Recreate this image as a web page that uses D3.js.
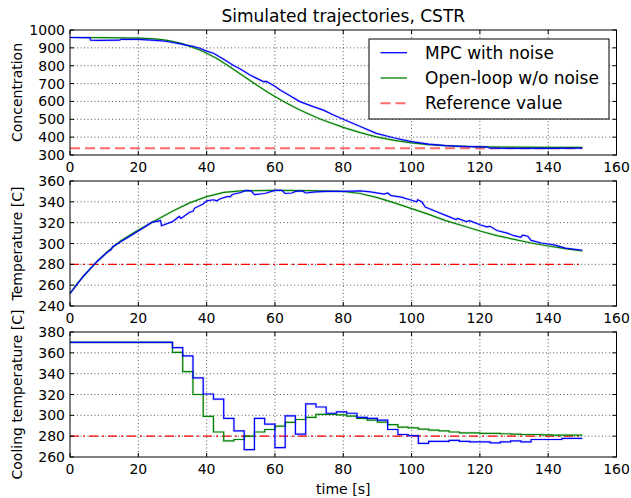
<!DOCTYPE html>
<html>
<head>
<meta charset="utf-8">
<script src="https://cdn.jsdelivr.net/npm/d3@7"></script>
<style>
  body { margin: 0; background: #fff; }
  svg { display: block; font-family: "DejaVu Sans", sans-serif; }
</style>
</head>
<body>
<div id="grafico"></div>
<script>
// datos
const ticksX = [0, 20, 40, 60, 80, 100, 120, 140, 160];

const tConcMpc = [0, 5.8, 6, 8, 14.5, 15, 20, 25, 28, 30, 32, 34, 36, 38, 40, 42, 45, 48, 50, 52.7, 56.6, 57.5, 60, 61.5, 64.4, 67.3, 71.2, 74.2, 77, 80, 85, 89.7, 95, 100, 105, 110, 115, 120, 122, 123, 130, 140, 150];
const concMpc = [958, 957, 943, 942, 943, 948, 947, 942, 937, 930, 924, 915, 909, 898, 882, 870, 836, 800, 780, 748, 711, 712, 685, 664, 632, 599, 571, 551, 525, 500, 460, 421, 395, 375, 361, 352, 348, 346, 345, 338, 337, 337, 338];
const tConcLazo = [0, 10, 20, 25, 28, 30, 33, 36, 38, 40, 43, 46.3, 50, 54, 58, 62.5, 67, 73, 80, 85, 90, 95, 100, 105, 110, 115, 120, 130, 140, 150];
const concLazo = [958, 957, 955, 950, 943, 936, 922, 903, 888, 870, 840, 800, 752, 700, 650, 600, 555, 503, 455, 425, 400, 382, 368, 358, 352, 348, 346, 344, 343, 343];
const concRef = 338;

const tTempMpc = [0, 4, 8, 11, 12, 12.5, 15, 18, 20, 22, 24, 25, 26.5, 26.8, 30, 32, 32.5, 35, 36, 36.5, 39, 40, 42, 43, 44, 46, 47, 47.5, 50, 51.5, 53, 54, 57, 58, 60, 62, 63, 65, 66, 68, 69, 72, 75, 80, 85, 88, 92, 93, 94, 97, 100, 101.5, 101.8, 103, 104, 107, 110, 113, 113.5, 116, 117, 120, 122, 123, 125, 128, 130, 132, 132.5, 134, 135, 138, 140, 142, 145, 150];
const tempMpc = [252, 269, 283, 292, 294, 297, 302, 308, 312, 316, 320.5, 321, 322, 317, 321, 326, 324, 330, 331, 334, 338, 341, 342, 341, 343, 345, 345, 347, 349, 351, 350.5, 347, 348, 349, 351, 351, 348, 348.5, 350, 350.5, 348.5, 349.5, 350, 350, 350.6, 349.5, 347.5, 348.5, 346, 344.5, 341.5, 340, 342, 340, 335, 331, 327, 323, 324, 321, 322, 318, 316, 316.5, 312.5, 310, 307.5, 306, 308, 307, 303, 300.5, 299.5, 298.5, 295.5, 293.5];
const tTempLazo = [0, 2, 4, 6, 8, 10, 12, 15, 20, 25, 30, 35, 40, 45, 50, 60, 70, 80, 85, 90, 95, 100, 105, 110, 115, 120, 125, 130, 135, 140, 145, 150];
const tempLazo = [252, 261, 269, 276, 283, 289, 295, 303, 313, 322, 331, 339, 345, 349, 350.5, 351, 350.8, 350, 348, 344, 339, 333.5, 328, 322, 317, 312, 307.5, 304, 300.5, 297.6, 295, 292.8];
const tempRef = 280;

// entrada de enfriamiento, escalones cada 3 s (el ultimo punto cierra en t=150)
const tEnfria = [0, 30, 33, 36, 39, 42, 45, 48, 51, 54, 57, 60, 63, 66, 69, 72, 75, 78, 81, 84, 87, 90, 93, 96, 99, 102, 105, 108, 111, 114, 117, 120, 123, 126, 129, 132, 135, 138, 141, 144, 147, 150];
const enfriaMpc = [370, 365, 357, 336, 320.5, 315.6, 297, 285, 267, 297, 291.5, 269, 299.5, 282, 311, 308, 302, 303.4, 302, 298, 297, 295.4, 286.4, 281.6, 280.5, 273, 275, 275, 276, 275, 274.5, 274.5, 273.5, 274.5, 275.4, 274.5, 276.8, 276.8, 276.8, 277.8, 277.8, 277.8];
const enfriaLazo = [370, 360.5, 342, 320, 299, 284, 275.5, 276.8, 280, 284, 286.4, 289.6, 293.2, 296, 298, 301, 301, 300.5, 299.3, 297, 295.4, 293.5, 291, 288.7, 288, 286.7, 285.8, 285, 284, 283.2, 283.2, 282.6, 282.6, 282.3, 282, 281.6, 281.6, 281.3, 281, 281, 281, 281];
const enfriaRef = 280;

const ancho = 631, alto = 498;
const izq = 70, der = 616.5;
const azul = "#0000ff", verde = "#008000", rojo = "#ff0000";
const letra = 14;

const $svg = d3.select("#grafico").append("svg")
  .attr("width", ancho).attr("height", alto);

const x = d3.scaleLinear().domain([0, 160]).range([izq, der]);

const paneles = [
  { arriba: 30, dominio: [300, 1000], ticks: d3.range(300, 1001, 100), etiqueta: "Concentration",
    series: [[tConcMpc, concMpc, azul], [tConcLazo, concLazo, verde]], ref: concRef, paso: false },
  { arriba: 181, dominio: [240, 360], ticks: d3.range(240, 361, 20), etiqueta: "Temperature [C]",
    series: [[tTempMpc, tempMpc, azul], [tTempLazo, tempLazo, verde]], ref: tempRef, paso: false },
  { arriba: 332, dominio: [260, 380], ticks: d3.range(260, 381, 20), etiqueta: "Cooling temperature [C]",
    series: [[tEnfria, enfriaMpc, azul], [tEnfria, enfriaLazo, verde]], ref: enfriaRef, paso: true }
];
const altoPanel = 125;

paneles.forEach((p, i) => {
  const y = d3.scaleLinear().domain(p.dominio).range([p.arriba + altoPanel, p.arriba]);
  const g = $svg.append("g");

  // rejilla punteada
  g.selectAll(".gx").data(ticksX.slice(1, -1)).join("line")
    .attr("x1", d => x(d)).attr("x2", d => x(d))
    .attr("y1", p.arriba).attr("y2", p.arriba + altoPanel)
    .attr("stroke", "#333").attr("stroke-width", 0.8).attr("stroke-dasharray", "1,2.5");
  g.selectAll(".gy").data(p.ticks.slice(1, -1)).join("line")
    .attr("x1", izq).attr("x2", der)
    .attr("y1", d => y(d)).attr("y2", d => y(d))
    .attr("stroke", "#333").attr("stroke-width", 0.8).attr("stroke-dasharray", "1,2.5");

  // referencia
  if (i === 0) {
    g.append("line").attr("x1", x(0)).attr("x2", x(150))
      .attr("y1", y(p.ref)).attr("y2", y(p.ref))
      .attr("stroke", "#ff6a6a").attr("stroke-width", 2).attr("stroke-dasharray", "10,5");
  } else {
    g.append("line").attr("x1", x(0)).attr("x2", x(150))
      .attr("y1", y(p.ref)).attr("y2", y(p.ref))
      .attr("stroke", rojo).attr("stroke-width", 1.3).attr("stroke-dasharray", "9,4,2,4");
  }

  const linea = d3.line()
    .x(d => x(d[0])).y(d => y(d[1]))
    .curve(p.paso ? d3.curveStepAfter : d3.curveLinear);

  // primero el lazo abierto, luego el MPC encima
  [p.series[1], p.series[0]].forEach(([ts, vs, color]) => {
    const pts = ts.map((t, k) => [t, vs[k]]);
    g.append("path").attr("d", linea(pts)).attr("fill", "none")
      .attr("stroke", color).attr("stroke-opacity", 0.15).attr("stroke-width", 2.6);
    g.append("path").attr("d", linea(pts)).attr("fill", "none")
      .attr("stroke", color).attr("stroke-width", 1.2);
  });

  // marco
  g.append("rect").attr("x", izq).attr("y", p.arriba)
    .attr("width", der - izq).attr("height", altoPanel)
    .attr("fill", "none").attr("stroke", "#000").attr("stroke-width", 1);

  // marcas hacia dentro en los cuatro lados
  const marca = 4;
  ticksX.forEach(t => {
    g.append("line").attr("x1", x(t)).attr("x2", x(t))
      .attr("y1", p.arriba + altoPanel).attr("y2", p.arriba + altoPanel - marca).attr("stroke", "#000");
    g.append("line").attr("x1", x(t)).attr("x2", x(t))
      .attr("y1", p.arriba).attr("y2", p.arriba + marca).attr("stroke", "#000");
  });
  p.ticks.forEach(v => {
    g.append("line").attr("x1", izq).attr("x2", izq + marca)
      .attr("y1", y(v)).attr("y2", y(v)).attr("stroke", "#000");
    g.append("line").attr("x1", der).attr("x2", der - marca)
      .attr("y1", y(v)).attr("y2", y(v)).attr("stroke", "#000");
  });

  // etiquetas de ejes
  g.selectAll(".tx").data(ticksX).join("text")
    .attr("x", d => x(d)).attr("y", p.arriba + altoPanel + 17)
    .attr("text-anchor", "middle").attr("font-size", letra).text(d => d);
  g.selectAll(".ty").data(p.ticks).join("text")
    .attr("x", izq - 5).attr("y", d => y(d)).attr("dy", "0.36em")
    .attr("text-anchor", "end").attr("font-size", letra).text(d => d);

  g.append("text")
    .attr("transform", `translate(21.5,${p.arriba + altoPanel / 2}) rotate(-90)`)
    .attr("text-anchor", "middle").attr("font-size", letra).text(p.etiqueta);
});

// titulo
$svg.append("text").attr("x", (izq + der) / 2).attr("y", 22)
  .attr("text-anchor", "middle").attr("font-size", 17).text("Simulated trajectories, CSTR");

$svg.append("text").attr("x", (izq + der) / 2).attr("y", 494)
  .attr("text-anchor", "middle").attr("font-size", letra).text("time [s]");

// leyenda
const leyenda = [
  { nombre: "MPC with noise", color: azul, ancho: 1.3, guiones: null },
  { nombre: "Open-loop w/o noise", color: verde, ancho: 1.3, guiones: null },
  { nombre: "Reference value", color: "#ff6a6a", ancho: 2, guiones: "10,5" }
];
const $ley = $svg.append("g");
$ley.append("rect").attr("x", 369).attr("y", 39).attr("width", 240).attr("height", 80)
  .attr("fill", "#fff").attr("stroke", "#000").attr("stroke-width", 1);
leyenda.forEach((e, k) => {
  const yy = 52.7 + k * 25.3;
  $ley.append("line").attr("x1", 380.5).attr("x2", 407).attr("y1", yy).attr("y2", yy)
    .attr("stroke", e.color).attr("stroke-width", e.ancho)
    .attr("stroke-dasharray", e.guiones);
  $ley.append("text").attr("x", 425).attr("y", yy).attr("dy", "0.36em")
    .attr("font-size", 17).text(e.nombre);
});
</script>
</body>
</html>
